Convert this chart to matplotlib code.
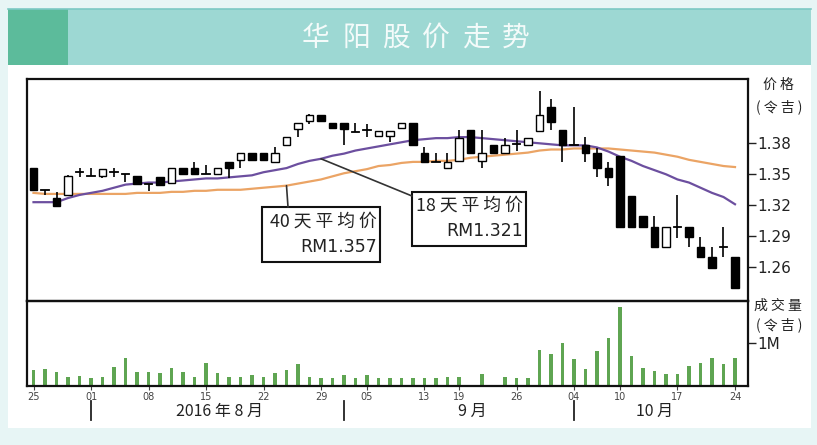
import matplotlib
matplotlib.use('Agg')
import matplotlib.pyplot as plt
from matplotlib.patches import Rectangle, ConnectionPatch
import matplotlib.transforms as mtransforms

# ---------------- data ----------------
dates = ['07-25','07-26','07-27','07-28','07-29',
         '08-01','08-02','08-03','08-04','08-05',
         '08-08','08-09','08-10','08-11','08-12',
         '08-15','08-16','08-17','08-18','08-19',
         '08-22','08-23','08-24','08-25','08-26',
         '08-29','08-30','09-01','09-02',
         '09-05','09-06','09-07','09-08','09-09',
         '09-13','09-14','09-15',
         '09-19','09-20','09-21','09-22','09-23',
         '09-26','09-27','09-28','09-29','09-30',
         '10-04','10-05','10-06','10-07',
         '10-10','10-11','10-12','10-13','10-14',
         '10-17','10-18','10-19','10-20','10-21',
         '10-24']

opens = [1.356,1.335,1.327,1.330,1.352, 1.348,1.348,1.352,1.350,1.348,
         1.341,1.347,1.342,1.356,1.356, 1.350,1.350,1.362,1.364,1.371,
         1.371,1.362,1.378,1.394,1.402, 1.407,1.400,1.400,1.391,
         1.393,1.387,1.387,1.395,1.400, 1.371,1.362,1.356,
         1.363,1.393,1.363,1.378,1.371, 1.379,1.378,1.392,1.415,1.393,
         1.378,1.378,1.371,1.356, 1.368,1.329,1.310,1.299,1.280,
         1.299,1.299,1.280,1.270,1.280, 1.270]
highs = [1.356,1.335,1.333,1.349,1.356, 1.356,1.355,1.356,1.350,1.348,
         1.341,1.347,1.356,1.356,1.362, 1.359,1.356,1.362,1.371,1.371,
         1.371,1.376,1.386,1.400,1.408, 1.407,1.400,1.400,1.400,
         1.399,1.392,1.392,1.400,1.400, 1.376,1.371,1.371,
         1.393,1.393,1.393,1.378,1.385, 1.393,1.385,1.431,1.423,1.393,
         1.415,1.386,1.375,1.362, 1.368,1.329,1.310,1.310,1.299,
         1.330,1.299,1.289,1.280,1.299, 1.270]
lows = [1.335,1.330,1.319,1.330,1.347, 1.348,1.346,1.347,1.343,1.341,
        1.334,1.340,1.342,1.350,1.350, 1.350,1.350,1.346,1.356,1.364,
        1.364,1.362,1.378,1.386,1.399, 1.402,1.395,1.378,1.391,
        1.386,1.387,1.381,1.395,1.378, 1.362,1.362,1.356,
        1.363,1.371,1.356,1.371,1.371, 1.373,1.378,1.392,1.393,1.362,
        1.378,1.362,1.347,1.339, 1.299,1.299,1.299,1.280,1.280,
        1.288,1.280,1.270,1.259,1.270, 1.240]
closes = [1.335,1.335,1.319,1.348,1.352, 1.348,1.355,1.352,1.350,1.341,
          1.341,1.340,1.356,1.350,1.350, 1.350,1.356,1.356,1.371,1.364,
          1.364,1.371,1.386,1.400,1.407, 1.402,1.395,1.394,1.391,
          1.393,1.392,1.392,1.400,1.378, 1.362,1.362,1.362,
          1.385,1.371,1.371,1.371,1.378, 1.379,1.385,1.407,1.401,1.378,
          1.378,1.371,1.356,1.347, 1.299,1.299,1.299,1.280,1.299,
          1.299,1.289,1.270,1.259,1.280, 1.240]

volume_m = [0.37,0.40,0.33,0.21,0.23, 0.18,0.22,0.44,0.66,0.33,
            0.33,0.30,0.42,0.33,0.22, 0.54,0.30,0.21,0.21,0.26,
            0.21,0.30,0.37,0.51,0.21, 0.18,0.18,0.26,0.18,
            0.26,0.18,0.18,0.18,0.18, 0.18,0.18,0.21,
            0.22,0.00,0.28,0.00,0.21, 0.18,0.18,0.84,0.74,1.00,
            0.63,0.39,0.83,1.12, 1.84,0.70,0.41,0.34,0.27,
            0.27,0.47,0.55,0.65,0.52, 0.65]

ma18 = [1.323,1.323,1.323,1.327,1.330, 1.332,1.334,1.337,1.340,1.341,
        1.342,1.342,1.343,1.344,1.345, 1.346,1.346,1.347,1.348,1.349,
        1.352,1.354,1.356,1.360,1.363, 1.365,1.368,1.370,1.373,
        1.375,1.377,1.379,1.381,1.383, 1.384,1.385,1.385,
        1.386,1.386,1.385,1.384,1.383, 1.382,1.381,1.380,1.379,1.378,
        1.378,1.378,1.376,1.372, 1.367,1.363,1.358,1.354,1.350,
        1.345,1.342,1.337,1.332,1.328, 1.321]
ma40 = [1.332,1.331,1.331,1.331,1.331, 1.331,1.331,1.331,1.331,1.332,
        1.332,1.332,1.333,1.333,1.334, 1.334,1.335,1.335,1.335,1.336,
        1.337,1.338,1.339,1.341,1.343, 1.345,1.348,1.351,1.353,
        1.355,1.358,1.359,1.361,1.362, 1.362,1.363,1.363,
        1.364,1.366,1.367,1.368,1.369, 1.370,1.371,1.373,1.374,1.374,
        1.375,1.375,1.375,1.375, 1.374,1.373,1.372,1.371,1.369,
        1.367,1.364,1.362,1.360,1.358, 1.357]

price_ticks = [1.26, 1.29, 1.32, 1.35, 1.38]
price_tick_labels = ['1.26', '1.29', '1.32', '1.35', '1.38']
vol_ticks = [1.0]
vol_tick_labels = ['1M']
day_label_idx = [0, 5, 10, 15, 20, 25, 29, 34, 37, 42, 47, 51, 56, 61]
day_labels = ['25', '01', '08', '15', '22', '29', '05', '13', '19', '26', '04', '10', '17', '24']
month_sep_idx = [5, 27, 47]
month_labels = ['2016 年 8 月', '9 月', '10 月']
month_label_pos = [16.2, 38.2, 54.0]
title_chars = ['华', '阳', '股', '价', '走', '势']
ma18_label = ['18 天 平 均 价', 'RM1.321']
ma40_label = ['40 天 平 均 价', 'RM1.357']

CJK = ['Noto Sans CJK SC', 'DejaVu Sans']

# ---------------- figure ----------------
W, H = 817, 445
fig = plt.figure(figsize=(W / 100, H / 100), dpi=100, facecolor='#e7f5f5')

bg = fig.add_axes([0, 0, 1, 1])
bg.set_xlim(0, W)
bg.set_ylim(H, 0)
bg.axis('off')
bg.add_patch(Rectangle((8, 64), 803, 364, facecolor='white', edgecolor='none'))
bg.add_patch(Rectangle((8, 9), 803, 56, facecolor='#9dd8d3', edgecolor='none'))
bg.add_patch(Rectangle((8, 9), 60, 56, facecolor='#5cbb9b', edgecolor='none'))
bg.plot([8, 811], [8.5, 8.5], color='#7cc9c4', lw=1.2)

for k, ch in enumerate(title_chars):
    bg.text(316 + 40 * k, 38, ch, family=CJK, fontsize=20, color='#f4fbfa',
            ha='center', va='center')

L, R = 27, 748
TOP, MID, BOT = 79, 301, 386
ax = fig.add_axes([L / W, 1 - MID / H, (R - L) / W, (MID - TOP) / H])
axv = fig.add_axes([L / W, 1 - BOT / H, (R - L) / W, (BOT - MID) / H], sharex=ax)
for a in (ax, axv):
    a.set_facecolor('none')
    for s in a.spines.values():
        s.set_linewidth(1.6)
        s.set_color('#111111')

n = len(dates)
xs = list(range(n))
x0 = (L - 33.5) / 11.5
x1 = (R - 33.5) / 11.5
ax.set_xlim(x0, x1)
ax.set_ylim(1.38 - (MID - 143.3) / 1033, 1.38 + (143.3 - TOP) / 1033)

# moving averages
ax.plot(xs, ma40, color='#eba465', lw=1.6, zorder=2)
ax.plot(xs, ma18, color='#6c4f9f', lw=1.6, zorder=2)

# candles
bw = 0.66
for i in xs:
    o, h, l, c = opens[i], highs[i], lows[i], closes[i]
    if h > l:
        ax.plot([i, i], [l, h], color='black', lw=1.2, zorder=3, solid_capstyle='butt')
    if abs(c - o) < 1e-9:
        ax.plot([i - bw / 2, i + bw / 2], [o, o], color='black', lw=1.3, zorder=4)
    else:
        fc = 'black' if c < o else 'white'
        ax.add_patch(Rectangle((i - bw / 2, min(o, c)), bw, abs(c - o),
                               facecolor=fc, edgecolor='black', lw=1.0, zorder=4))

ax.yaxis.tick_right()
ax.set_yticks(price_ticks)
ax.set_yticklabels(price_tick_labels)
ax.tick_params(axis='y', direction='out', length=6, width=1, labelsize=11,
               colors='#222222', pad=1)
ax.tick_params(axis='x', bottom=False, labelbottom=False)

# volume
axv.bar(xs, volume_m, width=0.3, color='#5fa552', zorder=2)
axv.set_ylim(0, (BOT - MID) / 42.7)
axv.yaxis.tick_right()
axv.set_yticks(vol_ticks)
axv.set_yticklabels(vol_tick_labels)
axv.tick_params(axis='y', direction='out', length=6, width=1, labelsize=11,
                colors='#222222', pad=1)
axv.set_xticks(day_label_idx)
axv.set_xticklabels(day_labels)
axv.tick_params(axis='x', direction='out', length=3, width=0.8, labelsize=7,
                colors='#444444', pad=1)

# month separators and labels
tr = mtransforms.blended_transform_factory(axv.transData, bg.transData)
for i in month_sep_idx:
    bg.plot([i, i], [401, 420], color='#222222', lw=1.3, transform=tr, clip_on=False)
for lab, p in zip(month_labels, month_label_pos):
    bg.text(p, 411, lab, family=CJK, fontsize=11.5, color='#222222',
            ha='center', va='center', transform=tr)

# right-hand axis titles
bg.text(778, 85, '价 格', family=CJK, fontsize=10, color='#222222', ha='center', va='center')
bg.text(779, 107, '( 令 吉 )', family=CJK, fontsize=10, color='#222222', ha='center', va='center')
bg.text(778, 306, '成 交 量', family=CJK, fontsize=10, color='#222222', ha='center', va='center')
bg.text(779, 325, '( 令 吉 )', family=CJK, fontsize=10, color='#222222', ha='center', va='center')

# call-out boxes
def callout(rect, lines, tx1, ty1, tx2, ty2):
    x, y, w, h = rect
    ax.add_patch(Rectangle((x, y), w, h, transform=bg.transData, facecolor='white',
                           edgecolor='#111111', lw=1.5, clip_on=False, zorder=6))
    ax.text(tx1, ty1, lines[0], transform=bg.transData, family=CJK, fontsize=12.8,
            color='#222222', ha='right', va='center', zorder=7)
    ax.text(tx2, ty2, lines[1], transform=bg.transData, family='DejaVu Sans', fontsize=12.5,
            color='#222222', ha='right', va='center', zorder=7)

callout((262, 207, 118, 55), ma40_label, 377, 222, 377, 247)
callout((412, 192, 114, 54), ma18_label, 523, 206, 523, 231)

fig.add_artist(ConnectionPatch(xyA=(22, ma40[22]), coordsA=ax.transData,
                               xyB=(288, 207), coordsB=bg.transData,
                               color='#333333', lw=1.2, zorder=5))
fig.add_artist(ConnectionPatch(xyA=(25, ma18[25]), coordsA=ax.transData,
                               xyB=(412, 196), coordsB=bg.transData,
                               color='#333333', lw=1.2, zorder=5))

fig.savefig('out.png', dpi=100, facecolor=fig.get_facecolor())
